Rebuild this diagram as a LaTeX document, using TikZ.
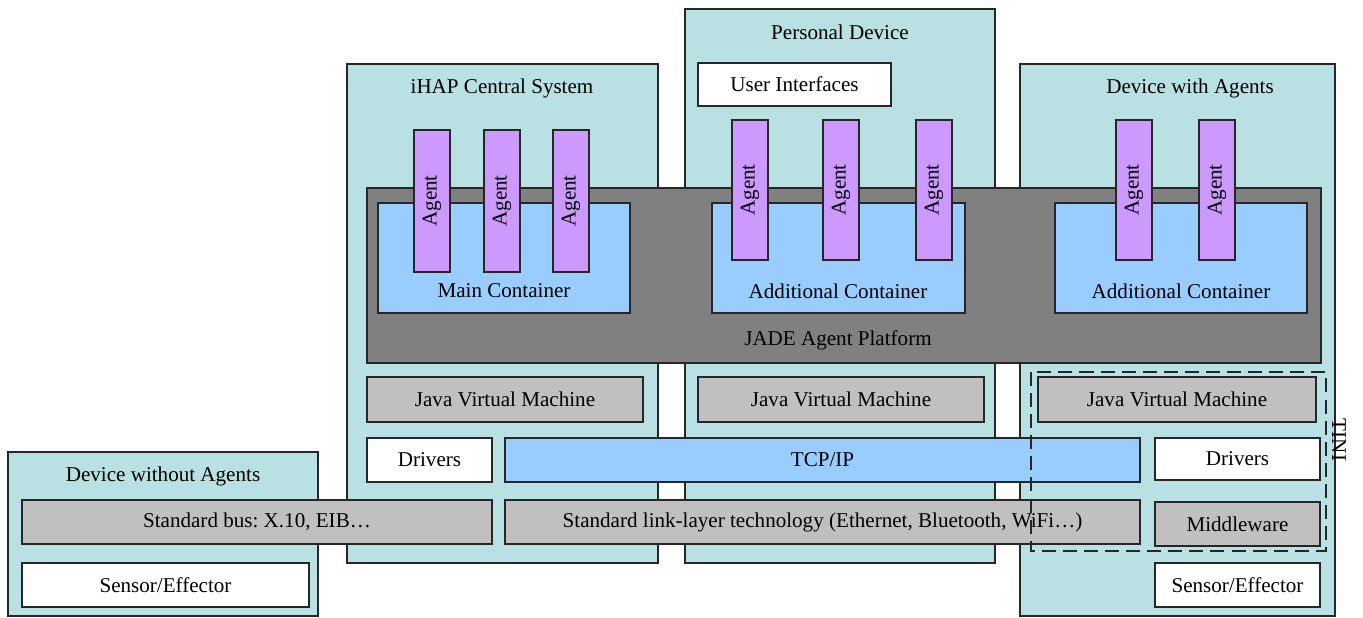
\documentclass[tikz,border=0pt]{standalone}
\usepackage{fontspec}
\setmainfont{Liberation Serif}
\usepackage{graphicx}
\frenchspacing
\definecolor{teal}{RGB}{185,224,226}
\definecolor{platform}{RGB}{128,128,128}
\definecolor{lgray}{RGB}{192,192,192}
\definecolor{lblue}{RGB}{153,204,255}
\definecolor{violet}{RGB}{204,153,255}
\newcommand{\rbox}[7]{\node[#2, minimum width={(#5-#3)*0.02cm}, minimum height={(#6-#4)*0.02cm}] (#1) at ({(#3+#5)/2},{(#4+#6)/2}) {#7};}
\tikzset{
  base/.style={draw=black!85, line width=1.1pt, inner sep=0pt, outer sep=0pt, rectangle, font=\fontsize{12}{14}\selectfont},
  device/.style={base, fill=teal},
  plat/.style={base, fill=platform},
  cont/.style={base, fill=lblue},
  agentbox/.style={base, fill=violet},
  whitebox/.style={base, fill=white},
  graybox/.style={base, fill=lgray},
  bluebox/.style={base, fill=lblue},
  title/.style={inner sep=0pt, font=\fontsize{12}{14}\selectfont},
  tini/.style={draw=black!85, line width=1.3pt, dash pattern=on 8pt off 4pt}
}
\begin{document}
\begin{tikzpicture}[x=0.02cm, y=-0.02cm]
\useasboundingbox (0,0) rectangle (1363,618);
% devices
\rbox{dwoa}{device}{8}{452}{318}{616}{}
\rbox{ihap}{device}{347}{64}{658}{563}{}
\rbox{pers}{device}{685}{9}{995}{563}{}
\rbox{dwa}{device}{1020}{64}{1335}{616}{}
\node[title] (tdwoa) at (163,476) {Device without Agents};
\node[title] (tihap) at (502,88) {iHAP Central System};
\node[title] (tpers) at (840,32) {Personal Device};
\node[title] (tdwa) at (1190,88) {Device with Agents};
% user interfaces
\rbox{ui}{whitebox}{698}{63}{891}{106}{User Interfaces}
% platform
\rbox{jade}{plat}{367}{188}{1321}{363}{}
\node[title] (tjade) at (838,340) {JADE Agent Platform};
\rbox{mc}{cont}{378}{203}{630}{313}{}
\rbox{ac1}{cont}{712}{203}{965}{313}{}
\rbox{ac2}{cont}{1055}{203}{1307}{313}{}
\node[title] (tmc) at (504,291) {Main Container};
\node[title] (tac1) at (838,291) {Additional Container};
\node[title] (tac2) at (1181,291) {Additional Container};
% agents
\rbox{a1}{agentbox}{414}{130}{450}{272}{\rotatebox{90}{Agent}}
\rbox{a2}{agentbox}{484}{130}{520}{272}{\rotatebox{90}{Agent}}
\rbox{a3}{agentbox}{553}{130}{589}{272}{\rotatebox{90}{Agent}}
\rbox{a4}{agentbox}{732}{120}{768}{260}{\rotatebox{90}{Agent}}
\rbox{a5}{agentbox}{823}{120}{859}{260}{\rotatebox{90}{Agent}}
\rbox{a6}{agentbox}{916}{120}{952}{260}{\rotatebox{90}{Agent}}
\rbox{a7}{agentbox}{1116}{120}{1152}{260}{\rotatebox{90}{Agent}}
\rbox{a8}{agentbox}{1199}{120}{1235}{260}{\rotatebox{90}{Agent}}
% JVMs
\rbox{jvm1}{graybox}{367}{377}{643}{422}{Java Virtual Machine}
\rbox{jvm2}{graybox}{698}{377}{984}{422}{Java Virtual Machine}
\rbox{jvm3}{graybox}{1038}{377}{1316}{422}{Java Virtual Machine}
% lower layers
\rbox{drv1}{whitebox}{367}{438}{492}{482}{Drivers}
\rbox{tcp}{bluebox}{505}{438}{1140}{482}{TCP/IP}
\rbox{drv2}{whitebox}{1155}{438}{1320}{480}{Drivers}
\rbox{bus}{graybox}{22}{500}{492}{544}{Standard bus: X.10, EIB…}
\rbox{link}{graybox}{505}{500}{1140}{544}{Standard link-layer technology (Ethernet, Bluetooth, WiFi…)}
\rbox{mw}{graybox}{1155}{502}{1320}{546}{Middleware}
\rbox{se1}{whitebox}{22}{563}{309}{607}{Sensor/Effector}
\rbox{se2}{whitebox}{1155}{563}{1320}{607}{Sensor/Effector}
% TINI
\coordinate (tnw) at (1031,372);
\coordinate (tse) at (1326,551);
\draw[tini] (tnw) rectangle (tse);
\node[title, rotate=-90] (ttini) at (1339,440) {TINI};
\end{tikzpicture}
\end{document}
